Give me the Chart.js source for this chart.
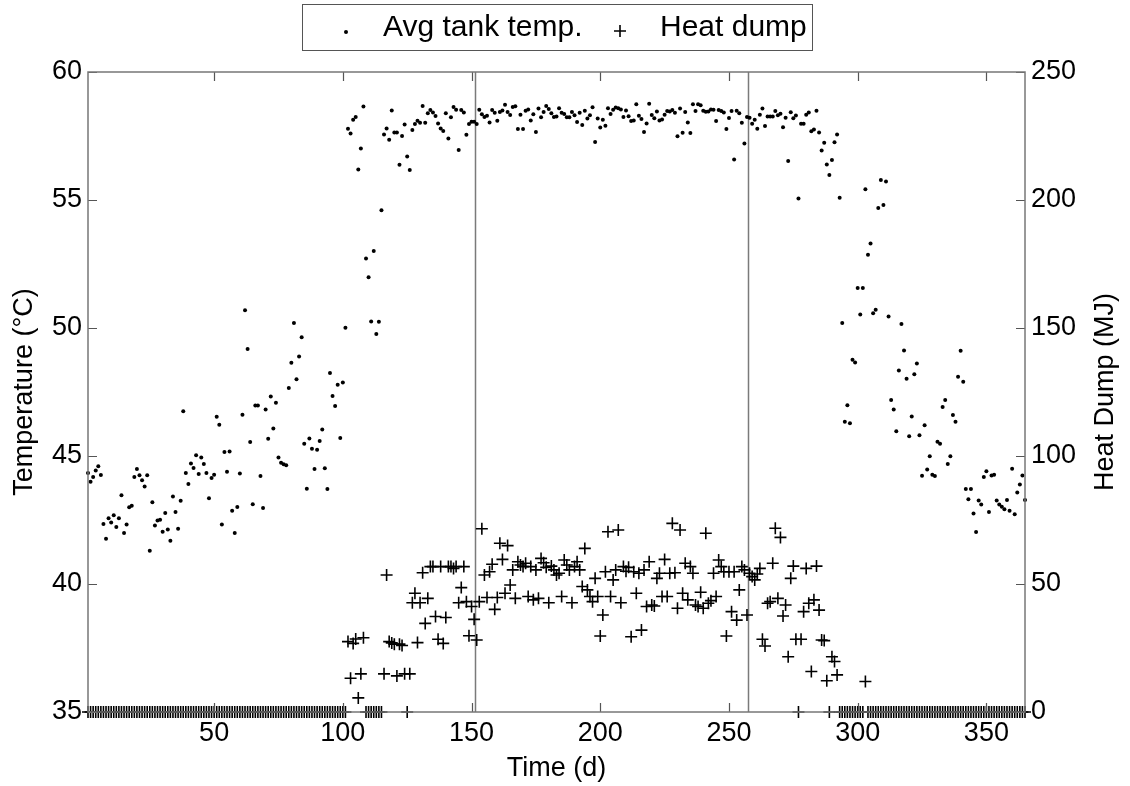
<!DOCTYPE html>
<html><head><meta charset="utf-8">
<script src="https://cdn.jsdelivr.net/npm/chart.js@4.4.0/dist/chart.umd.min.js"></script>
<style>html,body{margin:0;padding:0;background:#fff;} canvas{display:block;}</style>
</head><body>
<canvas id="c" width="1130" height="786"></canvas>
<script>
const FONT = '"Liberation Sans", Arial, Helvetica, sans-serif';
const seriesLabels = ['Avg tank temp.', 'Heat dump'];
const xTitle = 'Time (d)';
const yTitle = 'Temperature (°C)';
const y2Title = 'Heat Dump (MJ)';
const xTickValues = [50, 100, 150, 200, 250, 300, 350];
const yTickValues = [35, 40, 45, 50, 55, 60];
const y2TickValues = [0, 50, 100, 150, 200, 250];
const markerDays = [151.3, 257.3];

const avgTankTemp = [
44.34,43.99,44.18,44.43,44.60,44.26,42.34,41.77,42.57,42.40,
42.69,42.23,42.57,43.47,41.99,42.32,43.00,43.06,44.18,44.49,
44.25,44.05,43.81,44.25,41.30,43.19,42.29,42.48,42.51,42.04,
42.77,42.13,41.69,43.42,42.81,42.16,43.25,46.75,44.34,43.91,
44.71,44.53,45.03,44.30,44.94,44.69,44.34,43.35,44.14,44.27,
46.53,46.22,42.32,45.16,44.38,45.18,42.86,41.99,43.01,44.32,
46.61,50.69,49.18,45.55,43.12,46.97,46.97,44.22,42.97,46.82,
45.67,47.32,46.07,47.08,44.94,44.74,44.68,44.64,47.66,48.64,
50.20,48.00,48.89,49.64,45.48,43.72,45.68,45.28,44.49,45.24,
45.59,46.04,44.52,43.71,48.24,47.34,46.95,47.78,45.70,47.87,
50.01,57.78,57.60,58.13,58.24,56.19,57.01,58.65,52.71,51.98,
50.25,53.01,49.77,50.24,54.60,57.56,57.79,57.35,58.50,57.64,
57.64,56.38,57.50,57.95,56.70,56.17,57.73,57.97,58.10,58.02,
58.67,58.02,58.39,58.52,58.42,58.28,57.99,57.79,57.70,58.39,
57.40,58.23,58.63,58.53,56.95,58.52,58.42,57.55,57.97,58.06,
58.06,57.97,58.53,58.35,58.24,58.29,58.03,58.52,58.41,58.10,
58.44,58.50,58.72,58.44,58.32,58.63,58.66,57.77,58.33,57.77,
58.49,58.54,58.11,58.35,57.66,58.57,58.23,58.44,58.67,58.55,
58.39,58.24,58.26,58.58,58.41,58.36,58.23,58.23,58.44,58.31,
58.05,58.41,57.93,58.49,58.18,58.31,58.62,57.27,58.18,57.83,
58.13,57.90,58.58,58.36,58.53,58.61,58.58,58.54,58.24,58.50,
58.27,58.09,58.11,58.74,58.29,58.16,57.66,57.99,58.76,58.32,
58.19,58.46,58.11,58.14,58.33,58.48,58.46,58.52,58.41,57.49,
58.57,57.63,58.44,58.03,57.62,58.74,58.48,58.74,58.70,58.49,
58.45,58.46,58.54,58.53,58.09,58.52,58.48,58.42,57.77,58.20,
58.48,56.58,58.49,58.39,58.02,57.21,58.24,58.21,57.98,58.13,
57.78,58.33,58.57,57.89,58.26,58.26,58.26,58.48,58.31,58.37,
57.84,58.21,56.52,58.43,58.19,58.30,55.06,57.98,57.98,58.33,
58.42,57.69,57.75,58.49,57.64,56.93,57.24,56.39,55.98,56.56,
57.26,57.56,55.09,50.20,46.34,46.98,46.28,48.76,48.65,51.56,
50.53,51.56,55.42,52.86,53.30,50.58,50.71,54.69,55.78,54.80,
55.72,50.45,47.19,46.82,45.97,48.34,50.16,49.12,48.02,45.77,
46.54,48.19,48.61,45.81,44.23,46.20,44.47,44.99,44.27,44.22,
45.56,45.48,46.91,47.19,44.69,44.99,46.60,46.34,48.10,49.11,
47.90,43.71,43.31,43.71,42.75,42.03,43.26,43.11,44.18,44.40,
42.81,44.24,44.27,43.26,43.11,43.02,42.92,43.28,42.86,44.50,
42.72,43.57,43.89,44.24,43.28
];

const heatDump = [
0,0,0,0,0,0,0,0,0,0,
0,0,0,0,0,0,0,0,0,0,
0,0,0,0,0,0,0,0,0,0,
0,0,0,0,0,0,0,0,0,0,
0,0,0,0,0,0,0,0,0,0,
0,0,0,0,0,0,0,0,0,0,
0,0,0,0,0,0,0,0,0,0,
0,0,0,0,0,0,0,0,0,0,
0,0,0,0,0,0,0,0,0,0,
0,0,0,0,0,0,0,0,0,0,
0,27.5,13.2,26.8,28.5,5.5,14.9,29.0,0,0,
0,0,0,0,0,14.9,53.5,27.5,27.0,26.5,
14.1,26.5,26.0,14.9,0,14.9,42.7,46.4,27.1,42.7,
54.4,34.6,44.4,56.8,56.8,37.3,28.4,56.8,26.8,36.9,
56.8,56.8,56.1,56.8,42.7,48.6,56.8,43.1,29.8,41.2,
36.2,28.1,43.1,71.6,53.5,44.7,54.8,57.7,40.1,44.7,
65.9,59.6,46.4,65.0,49.6,55.5,44.4,58.7,57.4,56.8,
58.1,45.1,56.8,43.8,55.5,44.4,60.0,58.3,56.5,42.7,
57.0,55.5,53.5,54.2,45.1,59.4,57.4,55.5,42.7,56.8,
58.7,55.5,49.0,63.9,47.7,45.1,43.1,52.2,45.1,29.7,
37.9,54.8,70.4,45.1,51.6,55.5,71.1,42.7,56.8,55.0,
56.5,29.4,54.8,46.4,54.2,32.0,55.5,41.2,58.7,41.8,
41.4,52.2,54.2,45.1,59.6,45.1,54.2,73.7,54.4,40.5,
71.1,46.4,58.1,43.8,56.8,54.2,41.8,41.2,46.8,40.5,
69.8,42.5,43.5,54.2,45.1,59.4,56.8,54.8,29.7,54.8,
39.2,54.8,35.9,47.7,56.8,55.5,37.9,54.2,52.9,51.6,
53.9,56.1,28.4,25.8,42.5,43.1,58.1,71.8,44.4,68.2,
37.5,41.8,21.6,52.2,57.0,28.4,0,28.4,39.2,56.1,
42.5,15.8,43.8,57.0,39.8,28.1,27.9,12.2,0,21.6,
19.7,14.5,0,0,0,0,0,0,0,0,
0,0,11.9,0,0,0,0,0,0,0,
0,0,0,0,0,0,0,0,0,0,
0,0,0,0,0,0,0,0,0,0,
0,0,0,0,0,0,0,0,0,0,
0,0,0,0,0,0,0,0,0,0,
0,0,0,0,0,0,0,0,0,0,
0,0,0,0,0
];

const days = avgTankTemp.map((_, i) => i + 1);

const frame = {
  id: 'frame',
  beforeDatasetsDraw(chart) {
    const {ctx, chartArea: a, scales: {x}} = chart;
    ctx.save();
    ctx.strokeStyle = '#7a7a7a';
    ctx.lineWidth = 1.5;
    markerDays.forEach(d => {
      const px = Math.round(x.getPixelForValue(d)) + 0.5;
      ctx.beginPath(); ctx.moveTo(px, a.top); ctx.lineTo(px, a.bottom); ctx.stroke();
    });
    ctx.restore();
  },
  afterDatasetsDraw(chart) {
    const {ctx, chartArea: a, scales: {x, y, y2}} = chart;
    ctx.save();
    ctx.strokeStyle = '#555';
    ctx.lineWidth = 1.2;
    const L = 9;
    ctx.beginPath();
    xTickValues.forEach(v => {
      const px = Math.round(x.getPixelForValue(v)) + 0.5;
      ctx.moveTo(px, a.bottom); ctx.lineTo(px, a.bottom - L);
      ctx.moveTo(px, a.top); ctx.lineTo(px, a.top + L);
    });
    yTickValues.forEach(v => {
      const py = Math.round(y.getPixelForValue(v)) + 0.5;
      ctx.moveTo(a.left, py); ctx.lineTo(a.left + L, py);
    });
    y2TickValues.forEach(v => {
      const py = Math.round(y2.getPixelForValue(v)) + 0.5;
      ctx.moveTo(a.right, py); ctx.lineTo(a.right - L, py);
    });
    ctx.stroke();
    ctx.strokeStyle = '#777';
    ctx.lineWidth = 1.5;
    ctx.strokeRect(a.left, a.top, a.right - a.left, a.bottom - a.top);
    ctx.restore();
  },
  afterDraw(chart) {
    const {ctx, chartArea: a, scales: {y2}} = chart;
    ctx.save();
    // right axis title (reads bottom to top)
    ctx.fillStyle = '#000';
    ctx.font = '27px ' + FONT;
    ctx.textAlign = 'center';
    ctx.textBaseline = 'middle';
    ctx.translate(y2.right - 24, (a.top + a.bottom) / 2);
    ctx.rotate(-Math.PI / 2);
    ctx.fillText(y2Title, 0, 0);
    ctx.restore();

    // legend box
    ctx.save();
    ctx.fillStyle = '#fff';
    ctx.fillRect(302.5, 4.5, 510, 46);
    ctx.strokeStyle = '#555';
    ctx.lineWidth = 1;
    ctx.strokeRect(302.5, 4.5, 510, 46);
    ctx.fillStyle = '#000';
    ctx.beginPath(); ctx.arc(346, 32, 2, 0, Math.PI * 2); ctx.fill();
    ctx.strokeStyle = '#000'; ctx.lineWidth = 1.6;
    ctx.beginPath();
    ctx.moveTo(614, 31); ctx.lineTo(626, 31);
    ctx.moveTo(620, 25); ctx.lineTo(620, 37);
    ctx.stroke();
    ctx.font = '30px ' + FONT;
    ctx.textAlign = 'left';
    ctx.textBaseline = 'middle';
    ctx.fillText(seriesLabels[0], 383, 28);
    ctx.fillText(seriesLabels[1], 660, 28);
    ctx.restore();
  }
};

const tickFont = {family: FONT, size: 27};

new Chart(document.getElementById('c'), {
  type: 'scatter',
  data: {
    datasets: [
      {
        label: seriesLabels[0],
        data: days.map((d, i) => ({x: d, y: avgTankTemp[i]})),
        yAxisID: 'y',
        pointStyle: 'circle',
        pointRadius: 2,
        pointBackgroundColor: '#000',
        pointBorderWidth: 0,
        borderColor: '#000',
        backgroundColor: '#000',
        clip: false
      },
      {
        label: seriesLabels[1],
        data: days.map((d, i) => ({x: d, y: heatDump[i]})),
        yAxisID: 'y2',
        pointStyle: 'cross',
        pointRadius: 6,
        pointBorderWidth: 1.6,
        pointBorderColor: '#000',
        borderColor: '#000',
        backgroundColor: '#000',
        clip: false
      }
    ]
  },
  options: {
    responsive: false,
    animation: false,
    devicePixelRatio: 1,
    layout: {padding: {top: 72, left: 0, right: 0, bottom: 0}},
    plugins: {legend: {display: false}, tooltip: {enabled: false}},
    scales: {
      x: {
        type: 'linear', min: 1, max: 365,
        afterBuildTicks: s => { s.ticks = xTickValues.map(v => ({value: v})); },
        afterFit: s => { s.height = 74; },
        grid: {display: false, drawTicks: false}, border: {display: false},
        ticks: {font: tickFont, color: '#000', padding: 5},
        title: {display: true, text: xTitle, font: tickFont, color: '#000', padding: {top: 0, bottom: 1}}
      },
      y: {
        position: 'left', min: 35, max: 60,
        afterBuildTicks: s => { s.ticks = yTickValues.map(v => ({value: v})); },
        afterFit: s => { s.width = 88; },
        grid: {display: false, drawTicks: false}, border: {display: false},
        ticks: {font: tickFont, color: '#000', padding: 6},
        title: {display: true, text: yTitle, font: tickFont, color: '#000', padding: {top: 8, bottom: 0}}
      },
      y2: {
        position: 'right', min: 0, max: 250,
        afterBuildTicks: s => { s.ticks = y2TickValues.map(v => ({value: v})); },
        afterFit: s => { s.width = 105; },
        grid: {display: false, drawTicks: false}, border: {display: false},
        ticks: {font: tickFont, color: '#000', padding: 6},
        title: {display: false}
      }
    }
  },
  plugins: [frame]
});
</script>
</body></html>
